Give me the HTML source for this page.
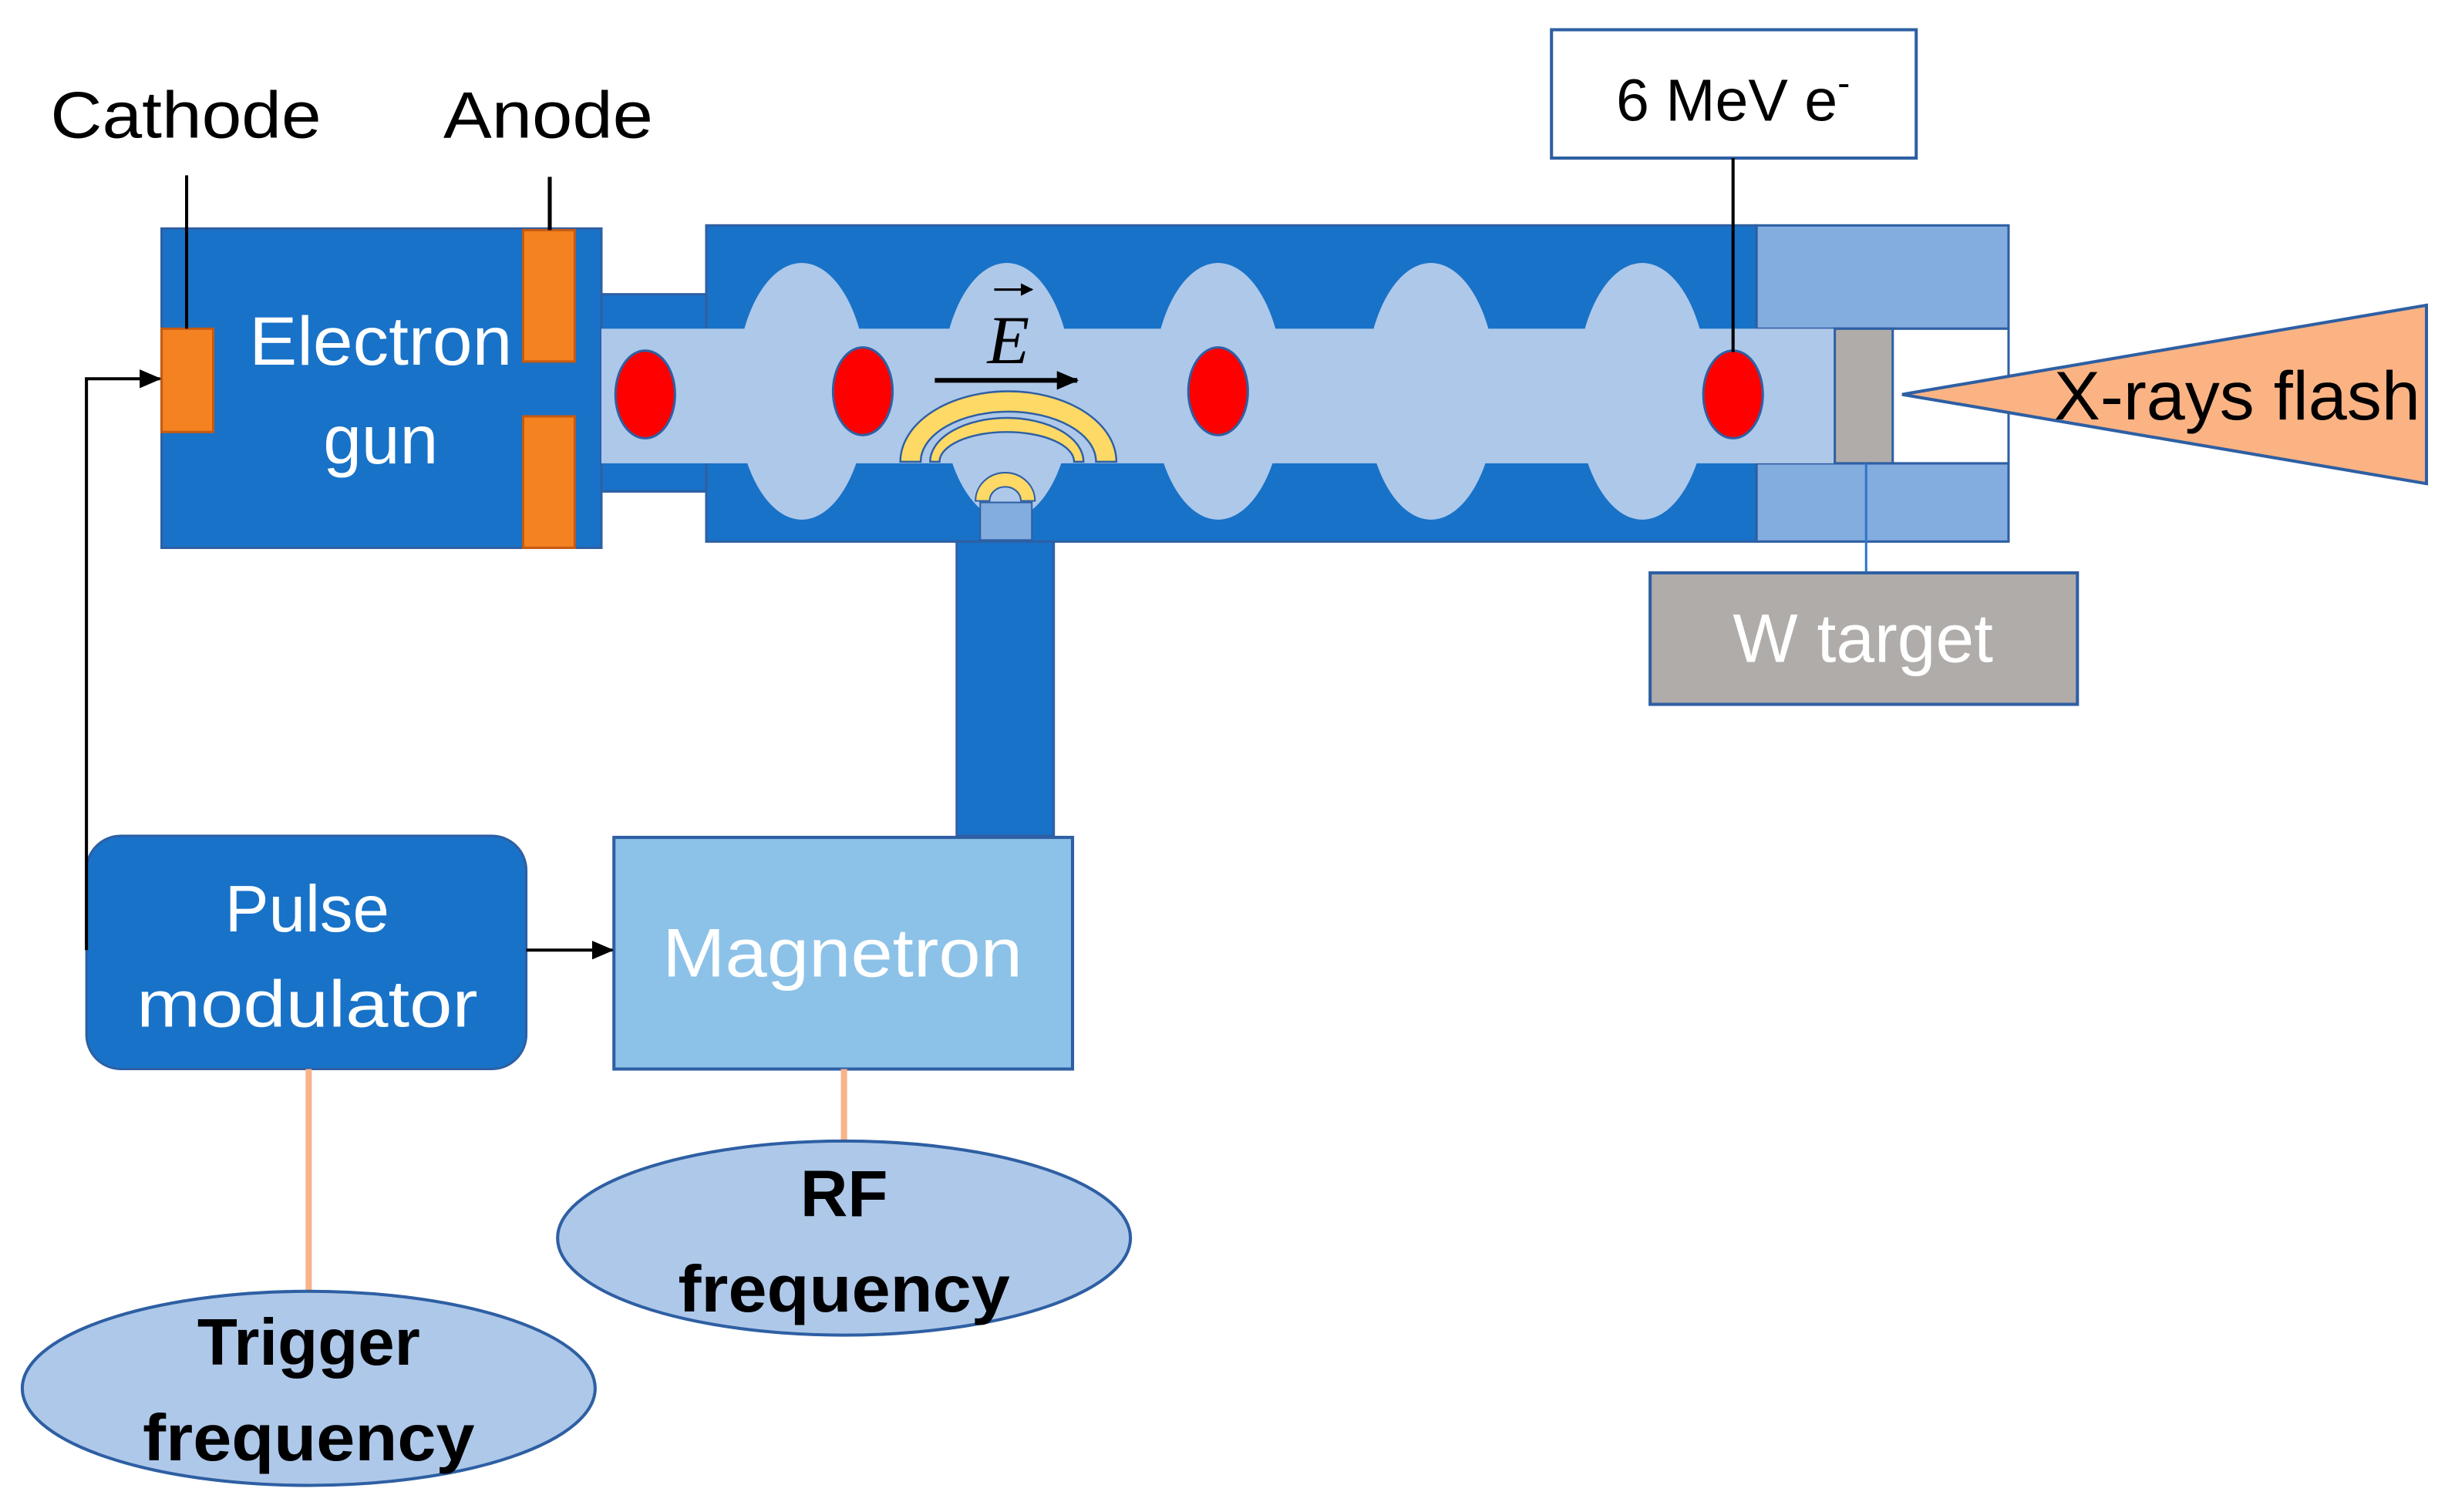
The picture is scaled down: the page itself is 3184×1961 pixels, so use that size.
<!DOCTYPE html>
<html><head><meta charset="utf-8"><style>html,body{margin:0;padding:0;background:#fff}svg{display:block}</style></head>
<body>
<svg width="3184" height="1961" viewBox="0 0 1568 966" xmlns="http://www.w3.org/2000/svg" font-family="Liberation Sans, sans-serif">
<defs>
<marker id="ah" markerWidth="8" markerHeight="8" refX="7" refY="4" orient="auto" markerUnits="userSpaceOnUse"><path d="M0,0 L8,4 L0,8 z" fill="#000"/></marker>
<marker id="ah2" markerWidth="14" markerHeight="12" refX="13" refY="6" orient="auto" markerUnits="userSpaceOnUse"><path d="M0,0 L14,6 L0,12 z" fill="#000"/></marker>
<clipPath id="cav"><rect x="451" y="146" width="671" height="198"/></clipPath>
</defs>
<text x="32" y="88" font-size="42" textLength="173" lengthAdjust="spacingAndGlyphs">Cathode</text>
<text x="283" y="88" font-size="42" textLength="134" lengthAdjust="spacingAndGlyphs">Anode</text>
<!-- electron gun -->
<rect x="103" y="146" width="281" height="204" fill="#1872c8" stroke="#2e5fa3" stroke-width="1.5"/>
<rect x="103" y="210" width="33" height="66" fill="#f58220" stroke="#c55a11" stroke-width="1.5"/>
<rect x="334" y="147" width="33" height="84" fill="#f58220" stroke="#c55a11" stroke-width="1.5"/>
<rect x="334" y="266" width="33" height="84" fill="#f58220" stroke="#c55a11" stroke-width="1.5"/>
<line x1="119" y1="112" x2="119" y2="210" stroke="#000" stroke-width="2"/>
<line x1="351" y1="113" x2="351" y2="147" stroke="#000" stroke-width="2.5"/>
<text x="243" y="233" font-size="44" fill="#fff" text-anchor="middle" textLength="168" lengthAdjust="spacingAndGlyphs">Electron</text>
<text x="243" y="296" font-size="44" fill="#fff" text-anchor="middle">gun</text>
<!-- connector tube -->
<rect x="384" y="188" width="67" height="126" fill="#1872c8" stroke="#2e5fa3" stroke-width="1.5"/>
<!-- accelerator -->
<rect x="451" y="144" width="671" height="202" fill="#1872c8" stroke="#2e5fa3" stroke-width="1.5"/>
<rect x="1122" y="144" width="161" height="66" fill="#83acdf" stroke="#2e5fa3" stroke-width="1.5"/>
<rect x="1122" y="296" width="161" height="50" fill="#83acdf" stroke="#2e5fa3" stroke-width="1.5"/>
<rect x="1172" y="210" width="111" height="86" fill="#fff" stroke="#2e5fa3" stroke-width="1.5"/>
<rect x="384" y="210" width="788" height="86" fill="#aec8e9"/>
<g clip-path="url(#cav)" fill="#aec8e9">
<ellipse cx="512" cy="250" rx="42" ry="82"/>
<ellipse cx="643" cy="250" rx="42" ry="82"/>
<ellipse cx="778" cy="250" rx="42" ry="82"/>
<ellipse cx="914" cy="250" rx="42" ry="82"/>
<ellipse cx="1049" cy="250" rx="42" ry="82"/>
</g>
<rect x="1172" y="210" width="37" height="86" fill="#b0acaa" stroke="#2e5fa3" stroke-width="1.5"/>
<line x1="1192" y1="296" x2="1192" y2="366" stroke="#2e75c8" stroke-width="1.5"/>
<!-- yellow arcs -->
<path d="M575,295 A69,45 0 0 1 713,295 L700,295 A56,32 0 0 0 588,295 Z" fill="#ffd966" stroke="#2e5fa3" stroke-width="1.2"/>
<path d="M594,295 A49,28 0 0 1 692,295 L686,295 A43,19 0 0 0 600,295 Z" fill="#ffd966" stroke="#2e5fa3" stroke-width="1.2"/>
<path d="M623,320 A19,18 0 0 1 661,320 L652,320 A10,9 0 0 0 632,320 Z" fill="#ffd966" stroke="#2e5fa3" stroke-width="1"/>
<rect x="626" y="321" width="33" height="24" fill="#83acdf" stroke="#2e5fa3" stroke-width="1"/>
<!-- red bunches -->
<g fill="#ff0000" stroke="#2e5fa3" stroke-width="1.5">
<ellipse cx="412" cy="252" rx="19" ry="28"/>
<ellipse cx="551" cy="250" rx="19" ry="28"/>
<ellipse cx="778" cy="250" rx="19" ry="28"/>
<ellipse cx="1107" cy="252" rx="19" ry="28"/>
</g>
<!-- E field -->
<line x1="597" y1="243" x2="688" y2="243" stroke="#000" stroke-width="3" marker-end="url(#ah2)"/>
<text x="644" y="232" font-size="44" font-family="Liberation Serif, serif" font-style="italic" text-anchor="middle">E</text>
<line x1="635" y1="185" x2="659" y2="185" stroke="#000" stroke-width="1.5" marker-end="url(#ah)"/>
<!-- waveguide -->
<rect x="611" y="346" width="62" height="188" fill="#1872c8" stroke="#2e5fa3" stroke-width="1.5"/>
<!-- 6 MeV -->
<rect x="991" y="19" width="233" height="82" fill="#fff" stroke="#2e5fa3" stroke-width="2"/>
<text x="1107" y="77" font-size="38" text-anchor="middle">6 MeV e<tspan font-size="24" dy="-16">-</tspan></text>
<line x1="1107" y1="101" x2="1107" y2="225" stroke="#000" stroke-width="2"/>
<!-- X-ray -->
<polygon points="1215,252 1550,195 1550,309" fill="#fbb384" stroke="#2e5fa3" stroke-width="2"/>
<text x="1312" y="268" font-size="44" textLength="234" lengthAdjust="spacingAndGlyphs">X-rays flash</text>
<!-- W target -->
<rect x="1054" y="366" width="273" height="84" fill="#b0acaa" stroke="#2e5fa3" stroke-width="2"/>
<text x="1190" y="423" font-size="44" fill="#fff" text-anchor="middle">W target</text>
<!-- pulse modulator -->
<rect x="55" y="534" width="281" height="149" rx="22" fill="#1872c8" stroke="#2e5fa3" stroke-width="1.5"/>
<text x="196" y="595" font-size="42" fill="#fff" text-anchor="middle">Pulse</text>
<text x="196" y="656" font-size="42" fill="#fff" text-anchor="middle" textLength="218" lengthAdjust="spacingAndGlyphs">modulator</text>
<!-- magnetron -->
<rect x="392" y="535" width="293" height="148" fill="#8cc2e8" stroke="#2e5fa3" stroke-width="2"/>
<text x="538" y="624" font-size="44" fill="#fff" text-anchor="middle" textLength="230" lengthAdjust="spacingAndGlyphs">Magnetron</text>
<!-- connectors -->
<line x1="336" y1="607" x2="391" y2="607" stroke="#000" stroke-width="2" marker-end="url(#ah2)"/>
<polyline points="55,607 55,242 102,242" fill="none" stroke="#000" stroke-width="2" marker-end="url(#ah2)"/>
<line x1="197" y1="683" x2="197" y2="825" stroke="#f8b38a" stroke-width="4"/>
<line x1="539" y1="683" x2="539" y2="729" stroke="#f8b38a" stroke-width="4"/>
<!-- ellipses -->
<ellipse cx="197" cy="887" rx="183" ry="62" fill="#aec8e9" stroke="#2e5fa3" stroke-width="2"/>
<text x="197" y="872" font-size="42" font-weight="bold" text-anchor="middle">Trigger</text>
<text x="197" y="933" font-size="42" font-weight="bold" text-anchor="middle" textLength="212" lengthAdjust="spacingAndGlyphs">frequency</text>
<ellipse cx="539" cy="791" rx="183" ry="62" fill="#aec8e9" stroke="#2e5fa3" stroke-width="2"/>
<text x="539" y="777" font-size="42" font-weight="bold" text-anchor="middle">RF</text>
<text x="539" y="838" font-size="42" font-weight="bold" text-anchor="middle" textLength="212" lengthAdjust="spacingAndGlyphs">frequency</text>
</svg>
</body></html>
